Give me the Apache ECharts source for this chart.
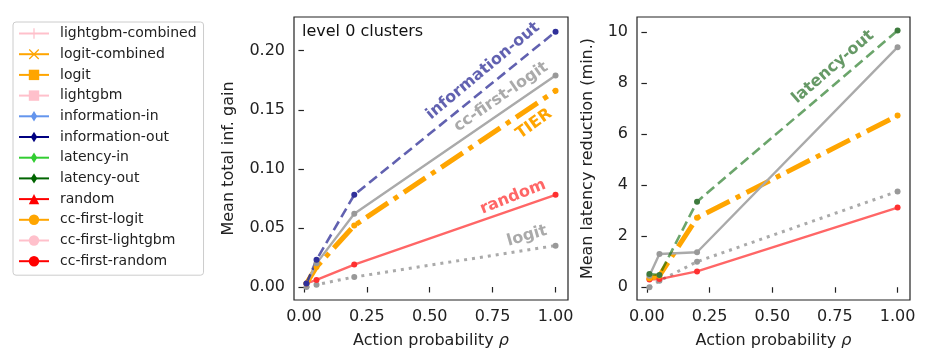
<!DOCTYPE html>
<html>
<head>
<meta charset="utf-8">
<script src="https://cdn.jsdelivr.net/npm/echarts@6/dist/echarts.min.js"></script>
<style>
  html, body { margin: 0; padding: 0; background: #fff; }
  #main { width: 936px; height: 354px; }
</style>
</head>
<body>
<div id="main"></div>
<script type="text/javascript">
// action probabilities (x)
var rho = [0.01, 0.05, 0.2, 1.0];

// left panel: mean total inf. gain
var gainInfoOut = [0.003, 0.023, 0.078, 0.216];
var gainCcFirstLogit = [0.003, 0.020, 0.062, 0.179];
var gainTier = [0.003, 0.017, 0.052, 0.166];
var gainRandom = [0.003, 0.006, 0.019, 0.078];
var gainLogit = [0.0, 0.002, 0.0085, 0.035];

// right panel: mean latency reduction (min.)
var latLatencyOut = [0.52, 0.48, 3.35, 10.05];
var latCcFirstLogit = [0.45, 1.3, 1.37, 9.4];
var latTier = [0.35, 0.45, 2.72, 6.72];
var latRandom = [0.3, 0.32, 0.62, 3.12];
var latLogit = [0.0, 0.25, 1.0, 3.75];

// tick labels
var xTicks = [0, 0.25, 0.5, 0.75, 1.0];
var gainTicks = [0, 0.05, 0.10, 0.15, 0.20];
var latTicks = [0, 2, 4, 6, 8, 10];

// legend entries
var legendNames = ['lightgbm-combined', 'logit-combined', 'logit', 'lightgbm',
  'information-in', 'information-out', 'latency-in', 'latency-out',
  'random', 'cc-first-logit', 'cc-first-lightgbm', 'cc-first-random'];
var legendColors = ['#ffc0cb', '#ffa500', '#ffa500', '#ffc0cb',
  '#6495ed', '#000080', '#32cd32', '#006400',
  '#ff0000', '#ffa500', '#ffc0cb', '#ff0000'];

var PLUS = 'path://M-1,-0.12L1,-0.12L1,0.12L-1,0.12ZM-0.12,-1L0.12,-1L0.12,1L-0.12,1Z';
var CROSS = 'path://M-1,-0.83L0.83,1L1,0.83L-0.83,-1ZM1,-0.83L0.83,-1L-1,0.83L-0.83,1Z';
var THIN_D = 'path://M-1,-1M1,1M0,-1L0.62,0L0,1L-0.62,0Z';
var legendSymbols = [PLUS, CROSS, 'rect', 'rect', THIN_D, THIN_D, THIN_D, THIN_D,
  'triangle', 'circle', 'circle', 'circle'];

function pairs(ys) {
  var out = [];
  for (var i = 0; i < rho.length; i++) out.push([rho[i], ys[i]]);
  return out;
}

function line(name, grid, ys, color, dotColor, width, type) {
  return {
    name: name, type: 'line', xAxisIndex: grid, yAxisIndex: grid,
    data: pairs(ys), symbol: 'circle', symbolSize: 6, showSymbol: true,
    lineStyle: { color: color, width: width, type: type, cap: 'butt' },
    itemStyle: { color: dotColor },
    emphasis: { disabled: true }, animation: false
  };
}

var FONT = 'DejaVu Sans';
var series = [];
for (var i = 0; i < legendNames.length; i++) {
  series.push({
    name: legendNames[i], type: 'line', xAxisIndex: 0, yAxisIndex: 0, data: [],
    symbol: legendSymbols[i], symbolSize: 10,
    itemStyle: { color: legendColors[i] },
    lineStyle: { color: legendColors[i], width: 2.4 }
  });
}
series.push(line('L logit', 0, gainLogit, '#aaaaaa', '#999999', 3, [3, 5]));
series.push(line('L random', 0, gainRandom, 'rgba(255,0,0,0.6)', '#ff3030', 2.4, 'solid'));
series.push(line('L TIER', 0, gainTier, '#ffa500', '#ffa500', 5, [26, 7, 5, 7]));
series.push(line('L cc-first-logit', 0, gainCcFirstLogit, '#aaaaaa', '#999999', 2.4, 'solid'));
series.push(line('L information-out', 0, gainInfoOut, 'rgba(0,0,128,0.62)', '#30309a', 2.6, [10, 5]));
series.push(line('R logit', 1, latLogit, '#aaaaaa', '#999999', 3, [3, 5]));
series.push(line('R random', 1, latRandom, 'rgba(255,0,0,0.6)', '#ff3030', 2.4, 'solid'));
series.push(line('R TIER', 1, latTier, '#ffa500', '#ffa500', 5, [26, 7, 5, 7]));
series.push(line('R cc-first-logit', 1, latCcFirstLogit, '#aaaaaa', '#999999', 2.4, 'solid'));
series.push(line('R latency-out', 1, latLatencyOut, 'rgba(0,100,0,0.58)', '#3d7a3d', 2.6, [10, 5]));

function xAxis(grid) {
  return {
    type: 'value', gridIndex: grid, min: -0.0395, max: 1.0495,
    splitLine: { show: false }, axisLine: { show: false },
    axisTick: { show: true, length: 5.5, lineStyle: { color: '#222', width: 1.2 }, customValues: xTicks },
    axisLabel: { customValues: xTicks, margin: 9, fontSize: 16, color: '#222', fontFamily: FONT,
      formatter: function (v) { return v.toFixed(2); } },
    name: '{a|Action probability }{b|ρ}', nameLocation: 'middle', nameGap: 33,
    nameTextStyle: { rich: {
      a: { fontSize: 16, fontFamily: FONT, color: '#222' },
      b: { fontSize: 16, fontFamily: FONT, color: '#222', fontStyle: 'italic' } } }
  };
}

function yAxis(grid, min, max, ticks, dec, name, gap) {
  return {
    type: 'value', gridIndex: grid, min: min, max: max,
    splitLine: { show: false }, axisLine: { show: false },
    axisTick: { show: true, length: 5.5, lineStyle: { color: '#222', width: 1.2 }, customValues: ticks },
    axisLabel: { customValues: ticks, margin: 9, fontSize: 16, color: '#222', fontFamily: FONT,
      formatter: function (v) { return v.toFixed(dec); } },
    name: name, nameLocation: 'middle', nameGap: gap, nameRotate: 90,
    nameTextStyle: { fontSize: 16, fontFamily: FONT, color: '#222' }
  };
}

function note(text, x, y, deg, color) {
  return {
    type: 'text', x: x, y: y, rotation: deg * Math.PI / 180, silent: true,
    style: { text: text, fill: color, font: 'bold 16px "DejaVu Sans"', align: 'center', verticalAlign: 'middle' }
  };
}

var chart = echarts.init(document.getElementById('main'));
chart.setOption({
  animation: false,
  textStyle: { fontFamily: FONT },
  grid: [
    { left: 294, top: 17, width: 274, height: 284, show: true, borderColor: '#222', borderWidth: 1.2, backgroundColor: 'transparent' },
    { left: 637, top: 17, width: 273, height: 284, show: true, borderColor: '#222', borderWidth: 1.2, backgroundColor: 'transparent' }
  ],
  xAxis: [xAxis(0), xAxis(1)],
  yAxis: [
    yAxis(0, -0.011, 0.2285, gainTicks, 2, 'Mean total inf. gain', 57),
    yAxis(1, -0.5, 10.58, latTicks, 0, 'Mean latency reduction (min.)', 41)
  ],
  legend: {
    data: legendNames, orient: 'vertical', left: 13, top: 22,
    itemWidth: 30, itemHeight: 13, itemGap: 6.7, selectedMode: false,
    padding: [4.5, 7, 7, 5],
    backgroundColor: '#fff', borderColor: '#cccccc', borderWidth: 1, borderRadius: 3,
    textStyle: { fontSize: 14, fontFamily: FONT, color: '#222', padding: [0, 0, 0, 6] }
  },
  graphic: [
    { type: 'text', left: 302, top: 24, silent: true,
      style: { text: 'level 0 clusters', fill: '#111', font: '16px "DejaVu Sans"' } },
    note('information-out', 483, 71, 39.8, 'rgba(0,0,128,0.62)'),
    note('cc-first-logit', 501, 97, 34.6, '#aaaaaa'),
    note('TIER', 534, 124, 35.8, '#ffa500'),
    note('random', 513, 197, 22, '#ff6666'),
    note('logit', 527, 236, 16, '#aaaaaa'),
    note('latency-out', 833, 67, 41, '#669966')
  ],
  series: series
});
</script>
</body>
</html>
